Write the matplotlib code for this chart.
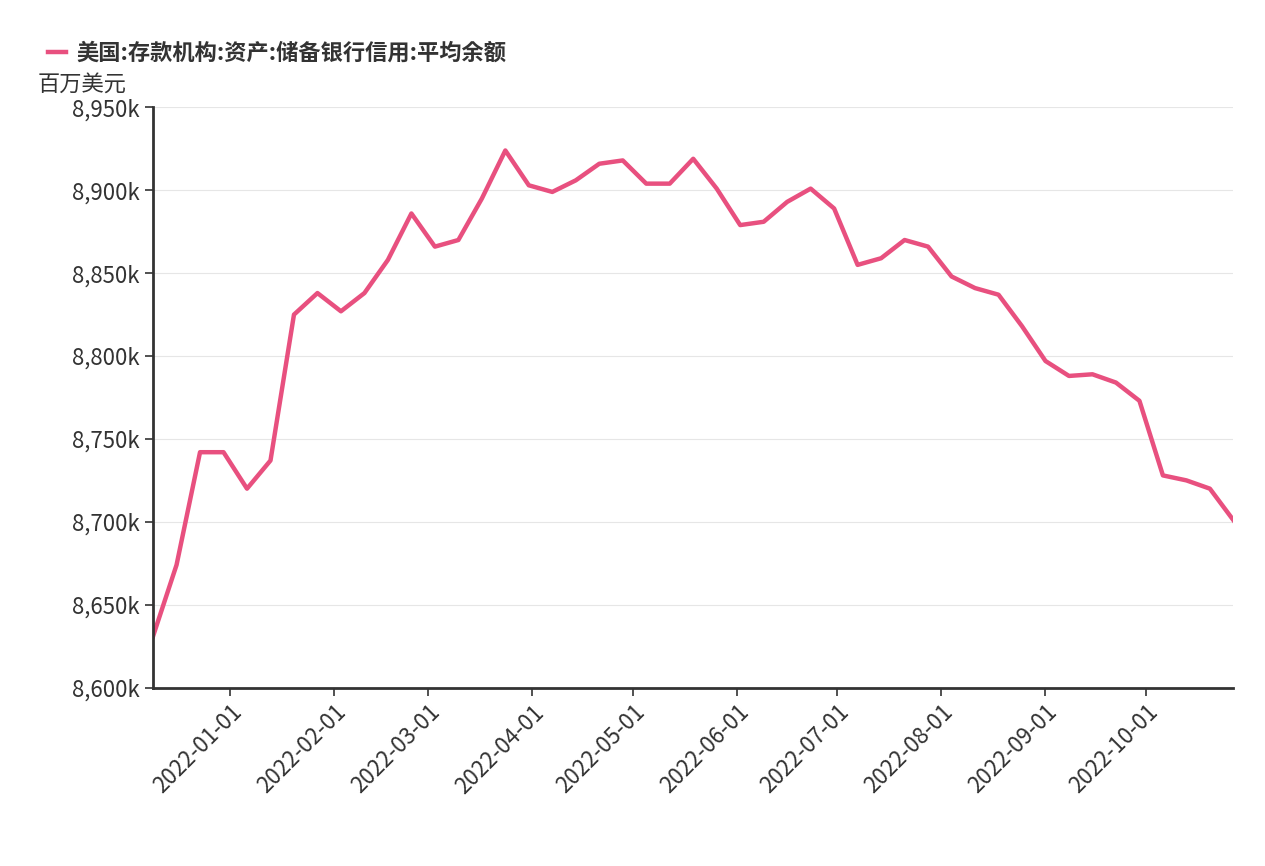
import matplotlib
matplotlib.use("Agg")
import matplotlib.pyplot as plt
import matplotlib.dates as mdates
import matplotlib.ticker as mticker
from matplotlib import font_manager as fm
import pandas as pd
import glob

cjk = None
for f in fm.findSystemFonts():
    if "CJK" in f and ("Regular" in f or "SC" in f):
        try:
            fm.fontManager.addfont(f)
            name = fm.FontProperties(fname=f).get_name()
            if cjk is None or "SC" in name:
                cjk = name
        except Exception:
            pass
plt.rcParams["font.family"] = [cjk or "Noto Sans CJK SC", "DejaVu Sans"]

start_date = "2021-12-09"
values = [8631, 8674, 8742, 8742, 8720, 8737, 8825, 8838, 8827, 8838, 8858, 8886,
          8866, 8870, 8895, 8924, 8903, 8899, 8906, 8916, 8918, 8904, 8904, 8919,
          8901, 8879, 8881, 8893, 8901, 8889, 8855, 8859, 8870, 8866, 8848, 8841,
          8837, 8818, 8797, 8788, 8789, 8784, 8773, 8728, 8725, 8720, 8701]
dates = pd.date_range(start_date, periods=len(values), freq="7D")
series_name = "美国:存款机构:资产:储备银行信用:平均余额"
unit = "百万美元"

fig = plt.figure(figsize=(12.65, 8.66), dpi=100)
ax = fig.add_axes([0.121, 0.206, 0.854, 0.670])
color = "#e8507f"
ax.plot(dates, values, color=color, lw=3.2, label=series_name)
ax.set_xlim(dates[0], dates[-1])
ax.set_ylim(8600, 8950)
ax.yaxis.set_major_locator(mticker.MultipleLocator(50))
ax.yaxis.set_major_formatter(mticker.FuncFormatter(lambda v, p: f"{int(v):,}k"))
ax.xaxis.set_major_locator(mdates.MonthLocator())
ax.xaxis.set_major_formatter(mdates.DateFormatter("%Y-%m-%d"))
for lbl in ax.get_xticklabels():
    lbl.set_rotation(45); lbl.set_ha("right"); lbl.set_rotation_mode("anchor")
ax.tick_params(axis="both", labelsize=16, colors="#333333")
ax.tick_params(axis="x", length=6, width=1.2)
ax.tick_params(axis="y", length=6, width=1.2)
ax.grid(axis="y", color="#e6e6e6", lw=0.8)
for s in ["top", "right"]:
    ax.spines[s].set_visible(False)
for s in ["left", "bottom"]:
    ax.spines[s].set_color("#333333"); ax.spines[s].set_linewidth(2)
ax.text(-0.107, 1.02, unit, transform=ax.transAxes, fontsize=16, color="#333333", va="bottom")
fig.legend(loc="upper left", bbox_to_anchor=(0.022, 0.975), frameon=False,
           prop={"size": 16, "weight": "bold"}, handlelength=0.8, handletextpad=0.5,
           labelcolor="#333333")
fig.savefig("out.png", dpi=100)
